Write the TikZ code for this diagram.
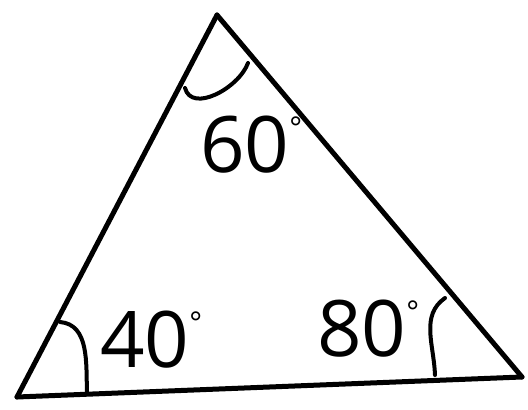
\documentclass[tikz,border=0pt]{standalone}
\usepackage{fontspec}
\setmainfont{Open Sans}
\newcommand{\degmark}{\raisebox{34pt}{\fontsize{30}{30}\selectfont °}}
\begin{document}
\begin{tikzpicture}[line cap=round,line join=round,x=1pt,y=1pt]
				\useasboundingbox (0,0) rectangle (528,410);
				\coordinate (A) at (217,395);
				\coordinate (B) at (17,13);
				\coordinate (C) at (522,33);
				\draw [line width=5pt] (A)-- (B);
				\draw [line width=5pt] (B)-- (C);
				\draw [line width=5pt] (C)-- (A);
				% angle marks
				\draw [line width=4pt] (185,322) to[out=-75,in=-110] (248,347);
				\draw [line width=4pt] (60,88) to[out=-5,in=92] (87,17);
				\draw [line width=4pt] (445,112) to[out=215,in=92] (435,35);
				\draw (200,237) node[anchor=base west,inner sep=0pt] {\fontsize{78}{78}\selectfont 60\degmark};
				\draw (100,42) node[anchor=base west,inner sep=0pt] {\fontsize{78}{78}\selectfont 40\degmark};
				\draw (317,53) node[anchor=base west,inner sep=0pt] {\fontsize{78}{78}\selectfont 80\degmark};
			\end{tikzpicture}
\end{document}
